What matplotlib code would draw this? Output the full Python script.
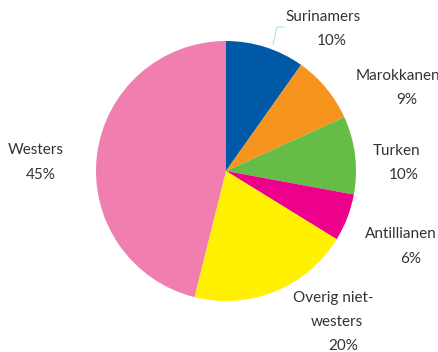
import matplotlib
matplotlib.use("Agg")
import matplotlib.pyplot as plt

categories = ["Surinamers", "Marokkanen", "Turken", "Antillianen", "Overig niet-\nwesters", "Westers"]
values = [9.8, 8.4, 9.7, 5.9, 20.1, 46.1]
pct_labels = ["10%", "9%", "10%", "6%", "20%", "45%"]
colors = ["#0059A7", "#F7941D", "#65BC46", "#EC008C", "#FFF100", "#F07EAF"]

W, H = 439, 352
fig = plt.figure(figsize=(W / 100, H / 100), dpi=100)
ax = fig.add_axes([0, 0, 1, 1])

cx, cy, r = 226, H - 171, 130
ax.pie(values, colors=colors, startangle=90, counterclock=False,
       center=(cx, cy), radius=r, wedgeprops=dict(linewidth=0),
       frame=True)
ax.set_xlim(0, W)
ax.set_ylim(0, H)
ax.axis("off")

txt = dict(color="#333333", fontsize=11, family="Lato", ha="center", va="center")

# name line positions and pct position in pixel coords (x, y from top)
name_pos = [[(323, 17)], [(398, 76)], [(397, 151)], [(401, 234)],
            [(333, 298), (337, 322)], [(36, 150)]]
pct_pos = [(332, 41), (407, 100), (404, 175), (411, 259), (343, 346), (41, 175)]

for cat, pct, npos, ppos in zip(categories, pct_labels, name_pos, pct_pos):
    for line, (x, y) in zip(cat.split("\n"), npos):
        ax.text(x, H - y, line, **txt)
    ax.text(ppos[0], H - ppos[1], pct, **txt)

# leader line for Surinamers
ax.plot([273, 277, 284], [H - 44, H - 27, H - 27], color="#B5DCE8", lw=0.8)

fig.savefig("out.png", dpi=100)
